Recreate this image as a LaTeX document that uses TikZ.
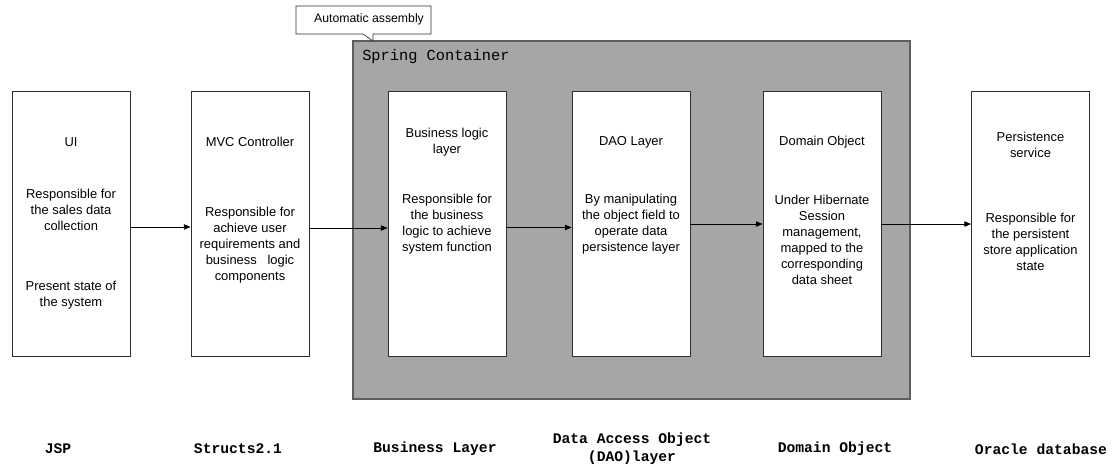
\documentclass[tikz,border=0pt]{standalone}
\usepackage{fontspec}
\setmainfont{Liberation Sans}
\newfontfamily\zhmono{Liberation Mono}
\usepackage{tikz}
\usetikzlibrary{positioning, arrows.meta}
\usetikzlibrary{calc}
\definecolor{springgray}{HTML}{A6A6A6}
\definecolor{springedge}{HTML}{5E5E5E}
\definecolor{boxedge}{HTML}{2E2E2E}

\begin{document}
\begin{tikzpicture}[x=0.75pt, y=-0.75pt,
	layer/.style={draw=boxedge, line width=0.6pt, fill=white, minimum width=88.5pt, minimum height=198.75pt, inner sep=0pt},
	txt/.style={align=center, inner sep=0pt, font=\fontsize{9.7}{12}\selectfont},
	tier/.style={align=center, inner sep=0pt, font=\zhmono\bfseries\fontsize{11}{13.5}\selectfont},
	arr/.style={-{Triangle[length=5pt, width=4pt]}, line width=0.5pt}]
	\useasboundingbox (0,0) rectangle (1115,467);
	
	\node[draw=springedge, line width=0.8pt, fill=springgray, minimum width=417.75pt, minimum height=268.5pt, inner sep=0pt] (spring) at (631.5,220) {};
	\node[anchor=west, inner sep=0pt, font=\zhmono\fontsize{11.5}{13}\selectfont] (springtitle) at (362,57) {Spring Container};
	
	\coordinate (tip) at (373,41);
	\filldraw[draw=boxedge, line width=0.5pt, fill=white] (296,6) -- (431,6) -- (431,34) -- (373,34) -- (tip) -- (363,34) -- (296,34) -- cycle;
	\node[inner sep=0pt, font=\fontsize{9.2}{10}\selectfont] (note) at (369,19.5) {Automatic assembly};
	
	\node[layer] (ui) at (71,223.5) {};
	\node[layer] (mvc) at (250,223.5) {};
	\node[layer] (bl) at (447,223.5) {};
	\node[layer] (dao) at (631,223.5) {};
	\node[layer] (dom) at (822,223.5) {};
	\node[layer] (ps) at (1030.5,223.5) {};
	
	\node[txt] (ui-t) at (71,142) {UI};
	\node[txt] (ui-b) at (71,210) {Responsible for\\the sales data\\collection};
	\node[txt] (ui-c) at (71,295) {Present state of\\the system};
	\node[txt] (mvc-t) at (250,142) {MVC Controller};
	\node[txt] (mvc-b) at (250,245) {Responsible for\\achieve user\\requirements and\\business\ \ \ logic\\components};
	\node[txt] (bl-t) at (447,142.5) {Business logic\\layer};
	\node[txt] (bl-b) at (447,224) {Responsible for\\the business\\logic to achieve\\system function};
	\node[txt] (dao-t) at (631,142) {DAO Layer};
	\node[txt] (dao-b) at (631,224) {By manipulating\\the object field to\\operate data\\persistence layer};
	\node[txt] (dom-t) at (822,142) {Domain Object};
	\node[txt] (dom-b) at (822,240) {Under Hibernate\\Session\\management,\\mapped to the\\corresponding\\data sheet};
	\node[txt] (ps-t) at (1030.5,145) {Persistence\\service};
	\node[txt] (ps-b) at (1030.5,242) {Responsible for\\the persistent\\store application\\state};
	
	\draw[arr] ([yshift=-2.6pt]ui.east) -- ([yshift=-2.6pt]mvc.west);
	\draw[arr] ([yshift=-3.4pt]mvc.east) -- ([yshift=-3.4pt]bl.west);
	\draw[arr] ([yshift=-3pt]bl.east) -- ([yshift=-3pt]dao.west);
	\draw[arr] ([yshift=-0.4pt]dao.east) -- ([yshift=-0.4pt]dom.west);
	\draw[arr] ([yshift=-0.4pt]dom.east) -- ([yshift=-0.4pt]ps.west);
	
	\node[tier] (jsp) at (58,449) {JSP};
	\node[tier] (structs) at (238,449) {Structs2.1};
	\node[tier] (business) at (435,449) {Business Layer};
	\node[tier] (access) at (632,449) {Data Access Object\\(DAO)layer};
	\node[tier] (domain) at (835,449) {Domain Object};
	\node[tier] (oracle) at (1041,449) {Oracle database};
\end{tikzpicture}
\end{document}
